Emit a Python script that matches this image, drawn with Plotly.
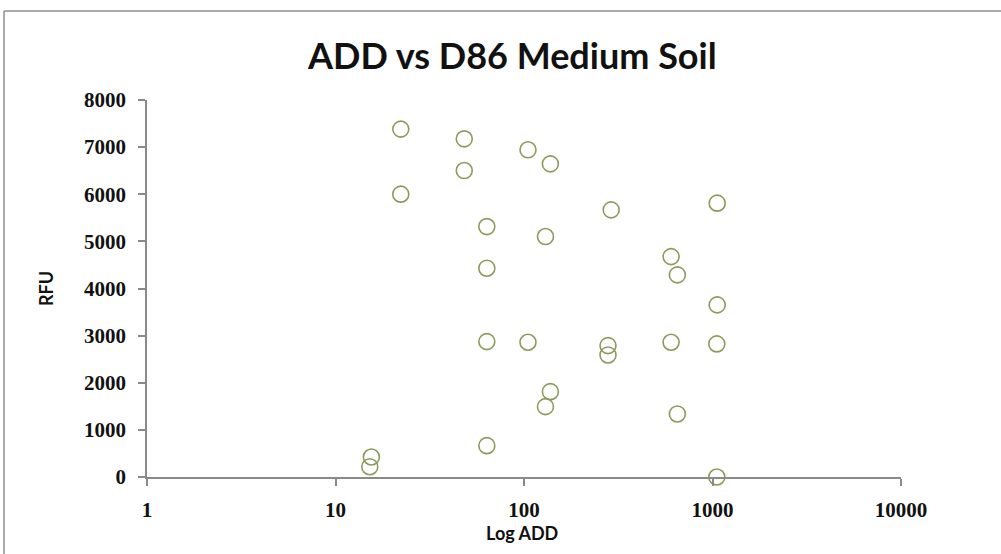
import plotly.graph_objects as go

# Data
log_add = [15.5, 15.2, 22.2, 22.2, 48.2, 48.2, 63.5, 63.5, 63.5, 63.5,
           105, 105, 138, 138, 130, 130, 290, 279, 279, 603, 603, 651, 651,
           1059, 1059, 1054, 1054]
rfu = [425, 219, 7382, 6002, 7176, 6503, 5314, 4431, 2873, 665,
       6943, 2860, 6645, 1811, 5102, 1493, 5669, 2788, 2590, 4677, 2860, 4289, 1338,
       5811, 3652, 2824, 0]
x_ticks = [1, 10, 100, 1000, 10000]
y_ticks = [0, 1000, 2000, 3000, 4000, 5000, 6000, 7000, 8000]

W, H = 1001, 554
L, R, T, B = 147, 100, 100, 77
PW, PH = W - L - R, H - T - B


def px(xp):
    return (xp - L) / PW


def py(yp):
    return (H - yp - B) / PH


fig = go.Figure()
fig.add_trace(go.Scatter(
    x=log_add, y=rfu, mode="markers",
    marker=dict(symbol="circle-open", size=16, color="#8C9A5C",
                line=dict(width=1.6, color="#8C9A5C")),
    showlegend=False, cliponaxis=False,
))

axis_font = dict(family="Liberation Serif", size=21, color="#111111")
fig.update_layout(
    width=W, height=H,
    margin=dict(l=L, r=R, t=T, b=B, pad=0),
    paper_bgcolor="white", plot_bgcolor="white",
    xaxis=dict(
        type="log", range=[0, 4], tickvals=x_ticks,
        ticktext=["<b>%d</b>" % v for v in x_ticks],
        showgrid=False, zeroline=False, showline=True, linecolor="#8a8a8a", linewidth=1.5,
        ticks="outside", ticklen=7, tickcolor="#8a8a8a", tickwidth=1.5,
        tickfont=axis_font, ticklabelstandoff=6,
    ),
    yaxis=dict(
        range=[0, 8000], tickvals=y_ticks,
        ticktext=["<b>%d</b>" % v for v in y_ticks],
        showgrid=False, zeroline=False, showline=True, linecolor="#8a8a8a", linewidth=1.5,
        ticks="outside", ticklen=7, tickcolor="#8a8a8a", tickwidth=1.5,
        tickfont=axis_font, ticklabelstandoff=8,
    ),
    shapes=[
        dict(type="line", xref="paper", yref="paper",
             x0=px(4), x1=px(W + 50), y0=py(11), y1=py(11),
             line=dict(color="#8f8f8f", width=1.5), layer="below"),
        dict(type="line", xref="paper", yref="paper",
             x0=px(4), x1=px(4), y0=py(11), y1=py(H + 50),
             line=dict(color="#8f8f8f", width=1.5), layer="below"),
    ],
    annotations=[
        dict(text="<b>ADD vs D86 Medium Soil</b>", xref="paper", yref="paper",
             x=px(512), y=py(55),
             xanchor="center", yanchor="middle", showarrow=False,
             font=dict(family="Lato", size=36, color="#111111")),
        dict(text="<b>Log ADD</b>", xref="paper", yref="paper",
             x=px(522), y=py(533),
             xanchor="center", yanchor="middle", showarrow=False,
             font=dict(family="Lato", size=18, color="#111111")),
        dict(text="<b>RFU</b>", xref="paper", yref="paper", textangle=-90,
             x=px(46), y=py(289),
             xanchor="center", yanchor="middle", showarrow=False,
             font=dict(family="Lato", size=18, color="#111111")),
    ],
)

fig.write_html("out.html")
